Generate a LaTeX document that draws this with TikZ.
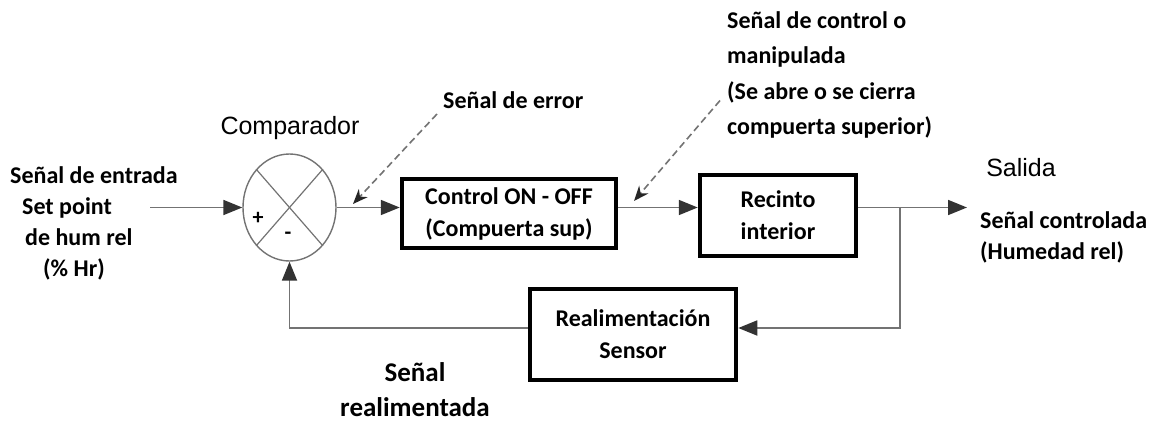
\documentclass[tikz,border=0pt]{standalone}
\usepackage{fontspec}
\setmainfont{Carlito}
\newfontfamily\arialfont{Liberation Sans}
\usetikzlibrary{arrows.meta,shapes.geometric}
\begin{document}
\begin{tikzpicture}[x=1pt,y=-1pt,
        lbl/.style={font=\fontsize{24}{31}\selectfont\bfseries, inner sep=0pt},
        blk/.style={draw, line width=4.5pt, align=center, inner sep=0pt,
          font=\fontsize{24}{32}\selectfont\bfseries},
        arr/.style={draw=black!55, line width=1.8pt,
          -{Triangle[length=19pt,width=15pt,color=black!80]}},
        dsh/.style={draw=black!55, line width=1.6pt, dash pattern=on 7pt off 4pt,
          -{Stealth[length=15pt,width=12pt,color=black!85]}}]
        \useasboundingbox (0,0) rectangle (1162,423);
        % blocks
        \node[ellipse, draw=black!55, line width=1.4pt, minimum width=93pt, minimum height=107pt, inner sep=0pt] (cmp) at (289.5,207.5) {};
        \draw[black!55, line width=1.2pt] (cmp.north west) -- (cmp.south east);
        \draw[black!55, line width=1.2pt] (cmp.north east) -- (cmp.south west);
        \node[font=\fontsize{22}{22}\selectfont\bfseries] (pls) at (258,218) {+};
        \node[font=\fontsize{22}{22}\selectfont\bfseries] (mns) at (288,236) {-};
        \node[blk, minimum width=214pt, minimum height=69pt] (ctrl) at (509,213.5) {Control ON - OFF\\(Compuerta sup)};
        \node[blk, minimum width=156pt, minimum height=81pt] (rec) at (778,215.5) {Recinto\\interior};
        \node[blk, minimum width=206pt, minimum height=91pt] (fb) at (633,334.5) {Realimentación\\Sensor};
        % labels
        \node[lbl, align=left, anchor=north west] (inp) at (10,166) {Señal de entrada\\\hspace*{12pt}Set point\\\hspace*{15pt}de hum rel\\\hspace*{33pt}(\% Hr)};
        \node[font=\arialfont\fontsize{25}{25}\selectfont, inner sep=0pt] (cmpl) at (290,128) {Comparador};
        \node[lbl, anchor=west] (err) at (443,100) {Señal de error};
        \node[lbl, align=left, anchor=north west, font=\fontsize{24}{35.5}\selectfont\bfseries] (man) at (727,11) {Señal de control o\\manipulada\\(Se abre o se cierra\\compuerta superior)};
        \node[font=\arialfont\fontsize{25}{25}\selectfont, inner sep=0pt] (sal) at (1021,168) {Salida};
        \node[lbl, align=left, anchor=west] (ctl) at (980,237) {Señal controlada\\(Humedad rel)};
        \node[lbl, align=center, font=\fontsize{27}{35}\selectfont\bfseries] (fbl) at (415,390) {Señal\\realimentada};
        % connectors
        \coordinate (src) at (150,207.5);
        \coordinate (br) at (900,207.5);
        \coordinate (out) at (967,207.5);
        \coordinate (fbk) at (289.5,328);
        \coordinate (errpt) at (353,204);
        \coordinate (manpt) at (634,201);
        \draw[arr] (src) -- (cmp.west);
        \draw[arr] (cmp.east) -- (cmp.east -| ctrl.west);
        \draw[arr] (ctrl.east |- br) -- (rec.west |- br);
        \draw[arr] (rec.east |- br) -- (out);
        \draw[arr] (br) -- (br |- fbk) -- (fb.east |- fbk);
        \draw[arr] (fb.west |- fbk) -- (fbk) -- (cmp.south);
        \draw[dsh] ([xshift=-6pt,yshift=-14pt]err.west) -- (errpt);
        \draw[dsh] ([xshift=-7pt,yshift=38pt]man.south west) -- (manpt);
      \end{tikzpicture}
\end{document}
